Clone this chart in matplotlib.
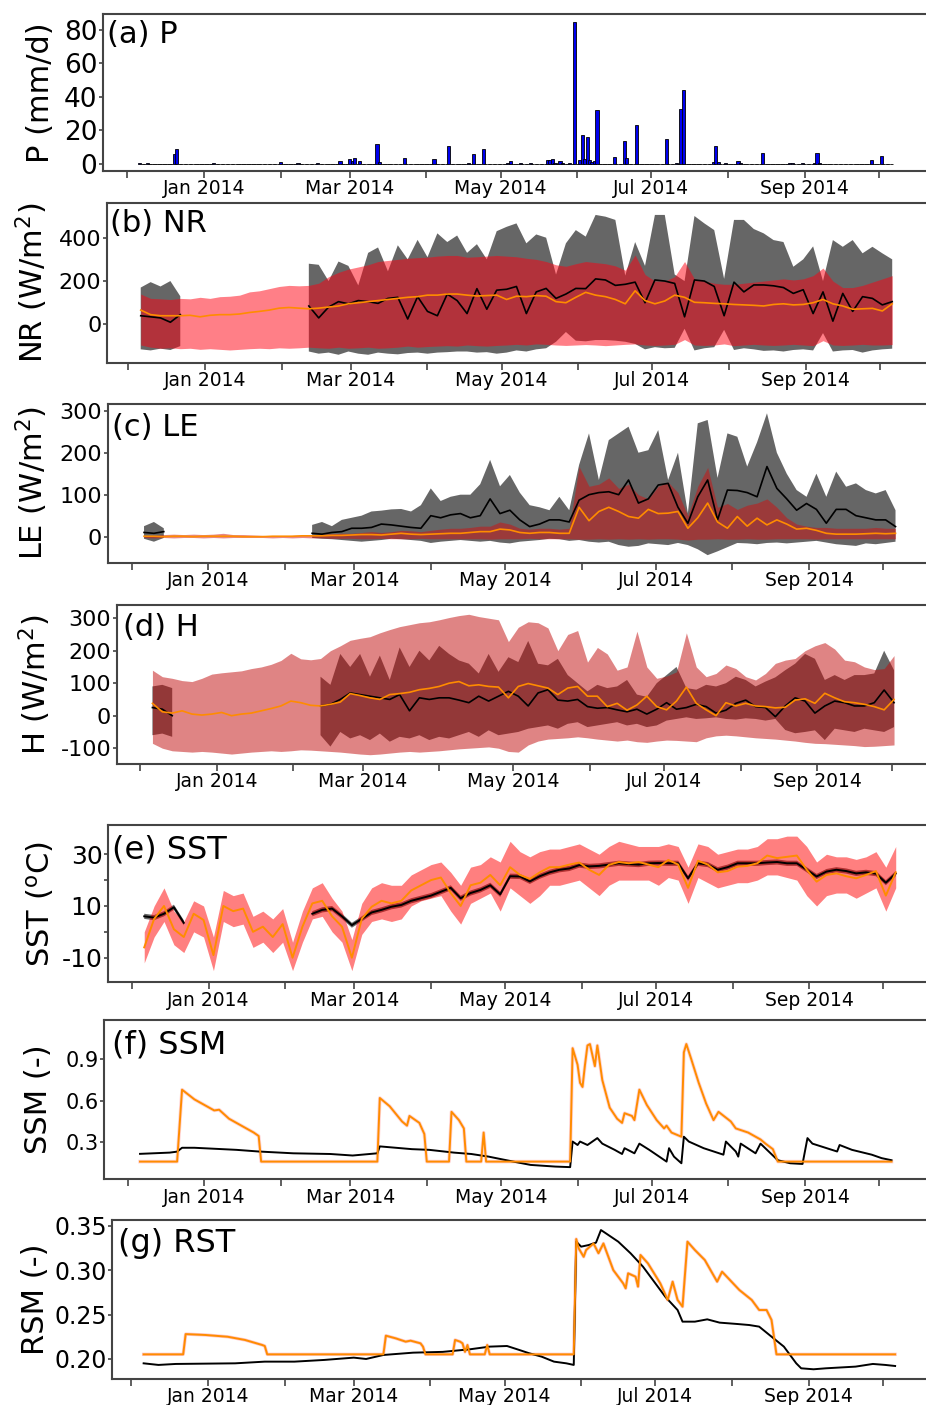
"""
Multi-panel time series: P, NR, LE, H, SST, SSM, RST (Dec 2013 - Oct 2014).
Observations (black / grey band) vs model ensemble (orange / red band).
"""

import numpy as np
import pandas as pd
import matplotlib

matplotlib.use("Agg")
import matplotlib.pyplot as plt
import matplotlib.dates as mdates
from matplotlib.ticker import FuncFormatter

plt.rcParams["font.family"] = "DejaVu Sans"
plt.rcParams["axes.unicode_minus"] = False

nan = np.nan

# ============================================================
# Data
# ============================================================
# sampling grid for panels b-e: every 4 days
grid = pd.date_range("2013-12-06", periods=77, freq="4D")

# ---- (a) precipitation, mm/d (days not listed are 0) ----
rain_dates = [
    "2013-12-06", "2013-12-09", "2013-12-20", "2013-12-21", "2014-01-05", "2014-02-01",
    "2014-02-08", "2014-02-16", "2014-02-25", "2014-03-01", "2014-03-02", "2014-03-03",
    "2014-03-05", "2014-03-12", "2014-03-13", "2014-03-23", "2014-04-04", "2014-04-10",
    "2014-04-18", "2014-04-20", "2014-04-24", "2014-05-04", "2014-05-05", "2014-05-09",
    "2014-05-13", "2014-05-20", "2014-05-21", "2014-05-22", "2014-05-23", "2014-05-25",
    "2014-05-26", "2014-05-29", "2014-05-31", "2014-06-02", "2014-06-03", "2014-06-04",
    "2014-06-05", "2014-06-06", "2014-06-07", "2014-06-08", "2014-06-09", "2014-06-16",
    "2014-06-20", "2014-06-21", "2014-06-25", "2014-07-07", "2014-07-11", "2014-07-13",
    "2014-07-14", "2014-07-26", "2014-07-27", "2014-07-28", "2014-07-31", "2014-08-05",
    "2014-08-06", "2014-08-15", "2014-08-26", "2014-08-27", "2014-08-31", "2014-09-05",
    "2014-09-06", "2014-09-07", "2014-09-28", "2014-10-02",
]
rain_mm = [
    0.5, 0.3, 6, 9, 0.5, 1,
    0.3, 0.8, 2, 3, 1.5, 3.5,
    2, 12, 1, 3.5, 3, 11,
    0.5, 6, 9, 0.8, 1.5, 0.3,
    0.4, 2.5, 2.5, 3, 0.8, 1.8,
    0.5, 0.5, 85, 2.2, 17.5, 3,
    16, 2.5, 1, 2, 32, 4,
    13.5, 3.5, 23, 15, 0.5, 33,
    44, 1, 11, 1, 0.3, 2,
    0.5, 6.5, 0.3, 0.4, 0.3, 0.5,
    6.5, 0.5, 2.5, 4.5,
]

# ---- (b) NR, W/m2 ----
nr_obs_hi = ([170, 195, 175, 200, 130] + [nan] * 12 +
             [280, 275, 200, 290, 270, 180, 330, 355, 245, 365, 300, 390, 310, 420, 380, 410] +
             [330, 370, 300, 430, 450, 466, 374, 415, 400, 230, 374, 435, 405, 505, 497, 482,
              225, 380, 270, 505, 505, 230, 200, 500, 466, 435, 210, 482, 482, 440, 420, 389,
              380, 266, 300, 360, 200, 389, 358, 389, 328, 358, 328, 300])
nr_obs_lo = ([-115, -120, -112, -118, -100] + [nan] * 12 +
             [-125, -135, -130, -140, -125, -135, -140, -130, -135, -138, -132, -130, -135, -130, -128, -125] +
             [-125, -130, -128, -135, -130, -120, -125, -115, -110, -80, -35, -75, -78, -72, -72, -75,
              -80, -90, -115, -105, -110, -108, -20, -120, -110, -105, -25, -118, -110, -115, -122, -120,
              -125, -118, -115, -120, -40, -125, -120, -118, -130, -120, -115, -112])
nr_obs = ([40, 35, 30, 10, 45] + [nan] * 12 +
          [85, 30, 80, 105, 95, 110, 105, 97, 120, 125, 25, 128, 60, 40, 140, 110] +
          [50, 165, 70, 158, 162, 175, 50, 150, 166, 120, 140, 166, 165, 210, 205, 180,
           185, 195, 100, 205, 200, 189, 35, 205, 200, 175, 40, 195, 150, 182, 182, 178,
           170, 143, 160, 50, 150, 15, 143, 60, 128, 120, 90, 105])
nr_mod_hi = [140, 120, 118, 115, 120, 118, 125, 120, 128, 130, 135, 150, 155, 165, 175, 180,
             178, 180, 190, 220, 240, 255, 265, 275, 290, 295, 300, 305, 308, 310, 315, 318,
             318, 310, 312, 315, 318, 315, 312, 305, 300, 290, 275, 268, 280, 290, 285, 280,
             270, 250, 320, 230, 200, 200, 220, 290, 210, 200, 190, 185, 185, 190, 195, 200,
             205, 210, 205, 210, 225, 260, 200, 170, 170, 180, 195, 210, 225]
nr_mod_lo = [-95, -105, -110, -108, -112, -110, -115, -112, -115, -118, -115, -112, -110, -112,
             -108, -110, -108, -105, -108, -110, -105, -110, -108, -105, -110, -108, -105, -100,
             -105, -102, -100, -98, -100, -95, -98, -100, -97, -95, -92, -95, -90, -92, -95, -97,
             -95, -93, -95, -98, -95, -92, -90, -95, -97, -95, -92, -70, -95, -97, -95, -90, -98,
             -95, -92, -95, -97, -95, -92, -95, -98, -75, -95, -97, -95, -92, -95, -95, -93]
nr_mod = [66, 45, 40, 40, 40, 42, 35, 42, 45, 45, 48, 55, 60, 66, 75, 78, 75, 72, 75, 80, 85,
          95, 100, 105, 110, 115, 120, 125, 128, 135, 135, 140, 140, 135, 131, 133, 135, 115,
          130, 128, 133, 130, 105, 100, 125, 148, 135, 128, 115, 95, 155, 110, 95, 108, 135,
          125, 102, 100, 97, 95, 92, 90, 88, 85, 92, 95, 90, 92, 100, 115, 95, 85, 70, 72, 74,
          62, 95]

# ---- (c) LE, W/m2 ----
le_obs_hi = ([25, 35, 20] + [nan] * 14 +
             [28, 35, 25, 40, 45, 50, 60, 62, 65, 66, 60, 75, 115, 85, 95, 100] +
             [100, 125, 183, 120, 147, 105, 75, 70, 63, 95, 63, 171, 246, 135, 230, 246,
              262, 200, 206, 254, 135, 200, 56, 270, 278, 140, 246, 238, 167, 225, 294, 200,
              150, 111, 95, 150, 95, 155, 119, 127, 111, 103, 111, 63])
le_obs_lo = ([-5, -12, -3] + [nan] * 14 +
             [-3, -5, -6, -8, -10, -12, -10, -8, -5, -6, -8, -10, -15, -12, -10, -8] +
             [-10, -12, -10, -14, -16, -12, -10, -8, -5, -6, -10, -8, -12, -14, -12, -20,
              -24, -22, -16, -18, -20, -15, -20, -30, -44, -35, -25, -15, -16, -18, -15, -14,
              -16, -14, -12, -10, -14, -18, -20, -22, -16, -18, -15, -12])
le_obs = ([10, 8, 12] + [nan] * 14 +
          [8, 6, 10, 12, 20, 20, 22, 30, 28, 25, 22, 20, 50, 45, 52, 55] +
          [45, 50, 90, 55, 63, 40, 24, 30, 40, 40, 35, 87, 100, 105, 107, 100,
           135, 80, 90, 123, 127, 70, 32, 95, 135, 40, 111, 110, 105, 95, 167, 115,
           90, 63, 79, 65, 32, 65, 65, 50, 45, 40, 40, 24])
le_mod_hi = [2, 3, 5, 6, 5, 6, 5, 6, 8, 5, 5, 4, 3, 2, 2, 3, 4,
             5, 6, 7, 8, 8, 10, 12, 10, 12, 15, 14, 12, 15, 18, 20, 20,
             22, 25, 25, 35, 30, 20, 18, 20, 20, 18, 20, 167, 120, 125, 140, 115,
             125, 100, 90, 120, 130, 105, 50, 120, 165, 70, 79, 65, 75, 80, 90, 70,
             45, 30, 25, 22, 22, 20, 20, 20, 20, 22, 20, 20]
le_mod_lo = [-2, -3, -2, -3, -2, -2, -3, -2, -3, -2, -2, -2, -2, -3, -2, -3, -2, -3, -3, -4,
             -4, -4, -5, -5, -4, -5, -5, -5, -4, -5, -5, -5, -5, -5, -5, -6, -5, -5, -5, -4,
             -5, -5, -5, -5, -6, -6, -5, -6, -5, -6, -5, -6, -5, -5, -6, -8, -6, -6, -5, -6,
             -6, -5, -6, -6, -5, -5, -5, -5, -6, -5, -5, -5, -5, -5, -5, -5, -5]
le_mod = [1, 1, 0, 1, 1, 0, 1, 1, 1, 1, 0, 0, 0, 1, 1, 1, 2,
          2, 2, 3, 3, 4, 5, 5, 4, 6, 8, 6, 5, 6, 7, 8, 8,
          10, 12, 12, 18, 16, 10, 8, 10, 10, 8, 8, 70, 38, 60, 70, 60,
          48, 44, 65, 55, 56, 60, 20, 45, 80, 35, 20, 48, 25, 44, 28, 40,
          30, 18, 20, 15, 8, 6, 6, 6, 7, 8, 7, 8]

# ---- (d) H, W/m2 ----
h_obs_hi = ([90, 95, 85] + [nan] * 14 +
            [120, 95, 190, 150, 190, 120, 185, 110, 210, 150, 200, 170, 215, 190, 170] +
            [160, 130, 190, 135, 180, 165, 230, 160, 155, 175, 125, 100, 75, 95, 85, 90,
             110, 65, 58, 100, 125, 150, 85, 80, 95, 90, 100, 120, 110, 90, 105, 118,
             140, 160, 190, 175, 110, 125, 110, 125, 125, 130, 200, 140] + [nan])
h_obs_lo = ([-60, -55, -65] + [nan] * 14 +
            [-60, -95, -50, -70, -60, -75, -55, -80, -65, -70, -60, -75, -65, -70, -60] +
            [-50, -65, -45, -60, -55, -50, -40, -35, -30, -40, -25, -20, -35, -30, -25, -20,
             -30, -25, -35, -30, -15, -10, -5, -10, -8, -5, -10, -12, -8, -10, -15, -10,
             -44, -54, -50, -45, -75, -40, -45, -50, -40, -45, -50, -35] + [nan])
h_obs = ([25, 20, 0] + [nan] * 14 +
         [30, 35, 50, 70, 65, 60, 55, 50, 65, 15, 55, 50, 55, 55, 48] +
         [40, 60, 45, 60, 75, 60, 30, 70, 80, 48, 45, 50, 28, 23, 25, 18,
          12, 20, 5, 20, 40, 20, 25, 35, 28, 8, 17, 38, 48, 28, 25, -3,
          30, 55, 45, 8, 30, 45, 40, 30, 30, 40, 79, 40] + [nan])
h_mod_hi = [140, 120, 115, 108, 105, 115, 128, 132, 135, 138, 145, 150, 158, 170, 192, 175,
            172, 176, 200, 215, 232, 238, 243, 255, 265, 274, 280, 286, 289, 295, 302, 308,
            312, 305, 300, 295, 228, 272, 289, 286, 270, 200, 250, 262, 165, 210, 190, 140,
            150, 260, 150, 115, 122, 135, 255, 150, 120, 130, 156, 145, 120, 110, 130, 161,
            171, 176, 200, 215, 225, 205, 171, 166, 150, 142, 145, 185, nan]
h_mod_lo = [-85, -100, -108, -110, -112, -110, -112, -115, -118, -115, -112, -110, -108, -110,
            -108, -105, -106, -108, -110, -112, -115, -118, -120, -118, -115, -112, -110, -112,
            -110, -108, -105, -102, -100, -98, -96, -100, -110, -112, -90, -78, -72, -70, -68,
            -65, -68, -72, -75, -78, -75, -80, -82, -78, -75, -76, -78, -80, -68, -62, -60, -62,
            -65, -68, -70, -72, -75, -78, -82, -85, -86, -88, -90, -92, -95, -94, -92, -90, nan]
h_mod = [38, 12, 8, 15, 5, 2, 5, 10, 0, 5, 8, 15, 22, 30, 45, 40, 32, 30, 35, 42, 68, 62, 55,
         50, 65, 68, 72, 80, 84, 90, 100, 105, 92, 95, 90, 88, 55, 90, 99, 92, 85, 65, 85, 90,
         60, 60, 28, 38, 17, 33, 60, 28, 18, 45, 88, 38, 18, 0, 40, 30, 38, 30, 28, 24, 26, 48,
         52, 38, 69, 55, 43, 40, 35, 28, 18, 50, nan]

# ---- (e) SST, degC ----
sst_obs_hi = ([7, 6.5, 8, 10.5, 4.5] + [nan] * 12 +
              [8, 9.5, 10, 7, 3.5, 6, 8.5, 9.5, 10.7, 11.4, 13, 14, 15, 16.5, 18, 14,
               16, 17.2, 19, 15.5, 22.5, 22.4, 20.5, 22.5, 24, 25, 25.5, 26.8, 26.3, 26.5, 27, 27.5,
               27.2, 27, 27.5, 27.6, 27.5, 27.5, 21.7, 27.5, 27, 25, 26, 27.5, 27.5, 27.5, 27.8, 28,
               27.5, 27.5, 25, 22.4, 24.3, 25, 24.5, 23.6, 24, 23.5, 20, 23.5])
sst_obs_lo = ([5, 4.5, 6, 8.5, 2.5] + [nan] * 12 +
              [6, 7.5, 8, 5, 1.6, 4, 6.5, 7.5, 8.7, 9.4, 11, 12, 13, 14.5, 16, 12,
               14, 15.2, 17, 13.5, 20.5, 20.4, 18.5, 20.5, 22, 23, 23.5, 24.8, 24.3, 24.5, 25, 25.5,
               25.2, 25, 25.5, 25.6, 25.5, 25.5, 19.7, 25.5, 25, 23, 24, 25.5, 25.5, 25.5, 25.8, 26,
               25.5, 25.5, 23, 20.4, 22.3, 23, 22.5, 21.6, 22, 21.5, 18, 21.5])
sst_obs = ([6, 5.5, 7, 9.5, 3.5] + [nan] * 12 +
           [7, 8.5, 9, 6, 2.6, 5, 7.5, 8.5, 9.7, 10.4, 12, 13, 14, 15.5, 17, 13,
            15, 16.2, 18, 14.5, 21.5, 21.4, 19.5, 21.5, 23, 24, 24.5, 25.8, 25.3, 25.5, 26, 26.5,
            26.2, 26, 26.5, 26.6, 26.5, 26.5, 20.7, 26.5, 26, 24, 25, 26.5, 26.5, 26.5, 26.8, 27,
            26.5, 26.5, 24, 21.4, 23.3, 24, 23.5, 22.6, 23, 22.5, 19, 22.5])
sst_mod_hi = [0, 10, 17, 8, 4, 12, 10, -2, 16, 14, 15, 6, 8, 5, 9, -4, 8, 17, 19, 13, 8, -3,
              11, 17, 19, 18, 18, 22, 24, 26, 27, 23, 18, 25, 26, 29, 27, 35, 31, 29, 31, 32,
              32, 33, 34, 32, 30, 33, 35, 34, 33, 33, 33, 34, 33, 25, 34, 33, 30, 31, 32, 32,
              33, 36, 36, 37, 37, 33, 27, 30, 29, 29, 28, 29, 31, 25, 33]
sst_mod_lo = [-12, -2, 4, -5, -8, 0, -2, -15, 4, 2, 3, -6, -4, -8, -4, -15, -4, 5, 6, 0, -4,
              -15, -1, 4, 5, 4, 5, 10, 12, 13, 14, 8, 3, 11, 13, 15, 8, 17, 14, 11, 14, 18,
              18, 19, 20, 17, 14, 18, 20, 20, 20, 20, 18, 21, 20, 11, 21, 19, 17, 18, 19, 19,
              20, 22, 22, 21, 20, 14, 10, 14, 15, 15, 13, 15, 17, 8, 17]
sst_mod = [-6, 5, 10, 1, -2, 7, 4.6, -9, 10, 8, 9, 0, 2, -2, 3, -10, 2, 11, 12, 6, 2, -10, 5,
           9.7, 12, 11, 12, 16, 18, 20, 21, 15, 10, 18, 19, 22, 18, 25, 22, 20.5, 23, 25, 25,
           26, 26.8, 24, 22, 25.9, 27, 26.5, 27, 26, 25, 27.8, 26, 17, 27.5, 26, 23, 23.5, 25.2,
           25.5, 26.5, 29.5, 28.5, 29, 29.5, 24, 19.4, 22, 22.6, 21.5, 20.7, 22, 23.5, 14, 23]

# ---- (f) SSM (-), values at break points ----
ssm_mod_dates = [
    "2013-12-06", "2013-12-21", "2013-12-23", "2013-12-28", "2014-01-02", "2014-01-05",
    "2014-01-07", "2014-01-11", "2014-01-16", "2014-01-21", "2014-01-23", "2014-01-24",
    "2014-03-12", "2014-03-13", "2014-03-17", "2014-03-22", "2014-03-24", "2014-03-25",
    "2014-03-29", "2014-03-31", "2014-04-01", "2014-04-10", "2014-04-11", "2014-04-14",
    "2014-04-16", "2014-04-17", "2014-04-23", "2014-04-24", "2014-04-25", "2014-05-29",
    "2014-05-30", "2014-06-01", "2014-06-02", "2014-06-03", "2014-06-04", "2014-06-05",
    "2014-06-06", "2014-06-08", "2014-06-09", "2014-06-11", "2014-06-14", "2014-06-17",
    "2014-06-19", "2014-06-20", "2014-06-23", "2014-06-24", "2014-06-26", "2014-06-29",
    "2014-07-03", "2014-07-06", "2014-07-07", "2014-07-09", "2014-07-13", "2014-07-14",
    "2014-07-15", "2014-07-17", "2014-07-20", "2014-07-23", "2014-07-26", "2014-07-28",
    "2014-08-02", "2014-08-04", "2014-08-09", "2014-08-14", "2014-08-16", "2014-08-19",
    "2014-08-21", "2014-10-06",
]
ssm_mod = [
    0.16, 0.16, 0.68, 0.61, 0.56, 0.53,
    0.535, 0.47, 0.42, 0.37, 0.345, 0.16,
    0.16, 0.62, 0.56, 0.45, 0.42, 0.49,
    0.44, 0.36, 0.16, 0.16, 0.52, 0.46,
    0.40, 0.16, 0.16, 0.37, 0.16, 0.16,
    0.98, 0.86, 0.73, 0.70, 0.86, 1.00,
    1.01, 0.85, 1.00, 0.75, 0.55, 0.47,
    0.44, 0.51, 0.49, 0.46, 0.68, 0.57,
    0.46, 0.40, 0.42, 0.37, 0.34, 0.95,
    1.01, 0.90, 0.73, 0.58, 0.46, 0.52,
    0.45, 0.40, 0.37, 0.32, 0.29, 0.25,
    0.16, 0.16,
]
ssm_obs_dates = [
    "2013-12-06", "2013-12-18", "2013-12-21", "2013-12-23", "2013-12-28", "2014-01-14",
    "2014-01-23", "2014-02-06", "2014-02-21", "2014-03-02", "2014-03-12", "2014-03-13",
    "2014-03-26", "2014-04-02", "2014-04-12", "2014-04-19", "2014-04-26", "2014-05-06",
    "2014-05-13", "2014-05-23", "2014-05-29", "2014-05-30", "2014-06-01", "2014-06-02",
    "2014-06-05", "2014-06-07", "2014-06-09", "2014-06-11", "2014-06-16", "2014-06-19",
    "2014-06-20", "2014-06-24", "2014-06-26", "2014-06-30", "2014-07-07", "2014-07-08",
    "2014-07-10", "2014-07-13", "2014-07-14", "2014-07-16", "2014-07-22", "2014-07-30",
    "2014-07-31", "2014-08-04", "2014-08-05", "2014-08-06", "2014-08-12", "2014-08-14",
    "2014-08-21", "2014-08-26", "2014-08-31", "2014-09-02", "2014-09-04", "2014-09-14",
    "2014-09-15", "2014-09-20", "2014-09-28", "2014-10-02", "2014-10-06",
]
ssm_obs = [
    0.216, 0.225, 0.232, 0.26, 0.26, 0.245,
    0.233, 0.22, 0.215, 0.204, 0.22, 0.27,
    0.25, 0.245, 0.225, 0.215, 0.196, 0.16,
    0.136, 0.124, 0.12, 0.305, 0.28, 0.305,
    0.28, 0.305, 0.33, 0.29, 0.245, 0.215,
    0.257, 0.22, 0.29, 0.245, 0.16, 0.257,
    0.196, 0.148, 0.34, 0.305, 0.257, 0.21,
    0.305, 0.233, 0.196, 0.29, 0.22, 0.29,
    0.17, 0.148, 0.143, 0.33, 0.29, 0.233,
    0.28, 0.245, 0.21, 0.185, 0.17,
]

# ---- (g) RSM (-), values at break points ----
rsm_mod_dates = [
    "2013-12-06", "2013-12-22", "2013-12-23", "2013-12-31", "2014-01-09", "2014-01-16",
    "2014-01-23", "2014-01-24", "2014-01-25", "2014-03-13", "2014-03-14", "2014-03-18",
    "2014-03-22", "2014-03-24", "2014-03-28", "2014-03-29", "2014-03-30", "2014-04-10",
    "2014-04-11", "2014-04-13", "2014-04-14", "2014-04-15", "2014-04-16", "2014-04-17",
    "2014-04-23", "2014-04-24", "2014-04-25", "2014-05-29", "2014-05-30", "2014-05-31",
    "2014-06-02", "2014-06-03", "2014-06-06", "2014-06-08", "2014-06-10", "2014-06-14",
    "2014-06-18", "2014-06-19", "2014-06-20", "2014-06-23", "2014-06-24", "2014-06-25",
    "2014-06-28", "2014-07-03", "2014-07-06", "2014-07-08", "2014-07-10", "2014-07-12",
    "2014-07-14", "2014-07-17", "2014-07-21", "2014-07-26", "2014-07-28", "2014-08-04",
    "2014-08-09", "2014-08-12", "2014-08-15", "2014-08-17", "2014-08-19", "2014-10-06",
]
rsm_mod = [
    0.2052, 0.2052, 0.228, 0.227, 0.225, 0.2214,
    0.2157, 0.2146, 0.2052, 0.2052, 0.2262, 0.2232,
    0.2195, 0.2206, 0.2176, 0.2139, 0.2052, 0.2052,
    0.2214, 0.2195, 0.2176, 0.208, 0.2157, 0.2052,
    0.2052, 0.2157, 0.2052, 0.2052, 0.335, 0.3245,
    0.315, 0.3226, 0.330, 0.319, 0.330, 0.300,
    0.285, 0.2795, 0.2964, 0.2926, 0.2814, 0.317,
    0.3076, 0.2851, 0.2664, 0.287, 0.2664, 0.2589,
    0.332, 0.3226, 0.3114, 0.287, 0.2982, 0.2776,
    0.2664, 0.2551, 0.2551, 0.2439, 0.2052, 0.2052,
]
rsm_obs_dates = [
    "2013-12-06", "2013-12-12", "2013-12-19", "2014-01-12", "2014-01-24", "2014-02-05",
    "2014-02-17", "2014-03-01", "2014-03-06", "2014-03-13", "2014-03-25", "2014-04-06",
    "2014-04-17", "2014-04-25", "2014-05-02", "2014-05-07", "2014-05-11", "2014-05-16",
    "2014-05-21", "2014-05-26", "2014-05-29", "2014-05-30", "2014-06-01", "2014-06-04",
    "2014-06-07", "2014-06-09", "2014-06-11", "2014-06-16", "2014-06-21", "2014-06-26",
    "2014-06-30", "2014-07-05", "2014-07-10", "2014-07-12", "2014-07-17", "2014-07-22",
    "2014-07-27", "2014-08-03", "2014-08-08", "2014-08-12", "2014-08-17", "2014-08-22",
    "2014-08-27", "2014-08-29", "2014-09-03", "2014-09-08", "2014-09-20", "2014-09-27",
    "2014-10-02", "2014-10-06",
]
rsm_obs = [
    0.1951, 0.1933, 0.1944, 0.1951, 0.197, 0.197,
    0.1989, 0.2015, 0.200, 0.2045, 0.2071, 0.208,
    0.2109, 0.2139, 0.2146, 0.2101, 0.2064, 0.2026,
    0.197, 0.1951, 0.1933, 0.332, 0.3264, 0.3282,
    0.3309, 0.3451, 0.3414, 0.332, 0.3189, 0.3039,
    0.2889, 0.2701, 0.2551, 0.242, 0.242, 0.2446,
    0.2409, 0.2394, 0.2382, 0.2364, 0.2251, 0.2139,
    0.1951, 0.1895, 0.1884, 0.1895, 0.1914, 0.1944,
    0.1933, 0.1921,
]

# ============================================================
# Figure layout (pixel geometry of each panel in the 926x1405 image)
# ============================================================
W, H = 926, 1405
PPD = 2.472  # pixels per day on the time axis
GREY = "#666666"
ORANGE = "#ff8c00"
SPINE = "#444444"

fig = plt.figure(figsize=(W / 100, H / 100), dpi=100)


def month_label(x, pos):
    d = mdates.num2date(x)
    return d.strftime("%b %Y") if d.month % 2 == 1 else ""


def make_panel(left, top, bottom, jan_px, ylim, yticks, ylabel, ylab_right,
               tag, tag_off, tag_fs, ytick_fs, yfmt=None):
    ax = fig.add_axes([left / W, 1 - bottom / H, (W - left) / W, (bottom - top) / H])
    t0 = pd.Timestamp("2014-01-01")
    ax.set_xlim(t0 - pd.Timedelta(days=(jan_px - left) / PPD),
                t0 + pd.Timedelta(days=(W - jan_px) / PPD))
    ax.xaxis.set_major_locator(mdates.MonthLocator())
    ax.xaxis.set_major_formatter(FuncFormatter(month_label))
    ax.set_ylim(*ylim)
    ax.set_yticks(yticks)
    if yfmt is not None:
        ax.yaxis.set_major_formatter(FuncFormatter(yfmt))
    ax.tick_params(axis="x", direction="out", length=5, width=1.2, color=SPINE,
                   labelsize=13.5, pad=1)
    ax.tick_params(axis="y", direction="out", length=3, width=1.2, color=SPINE,
                   labelsize=ytick_fs, pad=1)
    for side in ["top", "bottom", "left"]:
        ax.spines[side].set_color(SPINE)
        ax.spines[side].set_linewidth(1.5)
    ax.spines["right"].set_visible(False)
    ax.set_ylabel(ylabel, fontsize=22)
    ax.yaxis.set_label_coords((ylab_right - left) / (W - left), 0.5)
    ax.annotate(tag, xy=(0, 1), xycoords="axes fraction", xytext=tag_off,
                textcoords="offset pixels", ha="left", va="top", fontsize=tag_fs)
    return ax


def band_panel(ax, obs_lo, obs_hi, mod_lo, mod_hi, obs, mod, red, alpha=0.5, lw=1.2):
    ax.fill_between(grid, obs_lo, obs_hi, color=GREY, lw=0)
    ax.fill_between(grid, mod_lo, mod_hi, color=red, alpha=alpha, lw=0)
    ax.plot(grid, obs, color="black", lw=lw)
    ax.plot(grid, mod, color=ORANGE, lw=lw)


# ---- (a) P ----
ax_a = make_panel(103, 14, 171, 204, (-4.2, 89.5), [0, 20, 40, 60, 80], "P (mm/d)", 55,
                  "(a) P", (4, -6), 22, 19)
p_days = pd.date_range("2013-12-06", "2014-10-06", freq="D")
p_series = pd.Series(0.0, index=p_days)
p_series[pd.to_datetime(rain_dates)] = rain_mm
ax_a.bar(p_series.index, p_series.values, width=1.3, color="#0000ee",
         edgecolor="black", linewidth=0.6)

# ---- (b) NR ----
ax_b = make_panel(107, 203, 363, 205, (-178, 560), [0, 200, 400], "NR (W/m$^2$)", 50,
                  "(b) NR", (3, -6), 22, 16)
band_panel(ax_b, nr_obs_lo, nr_obs_hi, nr_mod_lo, nr_mod_hi, nr_obs, nr_mod, "#ff0011")

# ---- (c) LE ----
ax_c = make_panel(107.7, 404, 562.7, 208.3, (-62, 316), [0, 100, 200, 300], "LE (W/m$^2$)", 50,
                  "(c) LE", (4, -9), 22, 16)
band_panel(ax_c, le_obs_lo, le_obs_hi, le_mod_lo, le_mod_hi, le_obs, le_mod, "#d01010")

# ---- (d) H ----
ax_d = make_panel(116.7, 604.7, 764, 216.7, (-148.6, 341.5), [-100, 0, 100, 200, 300],
                  "H (W/m$^2$)", 53, "(d) H", (6, -8), 22, 16)
band_panel(ax_d, h_obs_lo, h_obs_hi, h_mod_lo, h_mod_hi, h_obs, h_mod, "#c10b0b")

# ---- (e) SST ----
ax_e = make_panel(108, 825, 982.3, 208.5, (-19.5, 41.3), [-10, 0, 10, 20, 30],
                  "SST ($^{\\mathrm{o}}$C)", 56, "(e) SST", (4, -9), 23, 18,
                  yfmt=lambda v, p: "%d" % v if int(round(v)) % 20 != 0 else "")
band_panel(ax_e, sst_obs_lo, sst_obs_hi, sst_mod_lo, sst_mod_hi, sst_obs, sst_mod,
           "#ff0000", lw=1.4)

# ---- (f) SSM ----
ax_f = make_panel(104, 1020, 1179.3, 204.3, (0.032, 1.184), [0.3, 0.6, 0.9], "SSM (-)", 53,
                  "(f) SSM", (8, -9), 23, 15, yfmt=lambda v, p: "%.1f" % v)
ssm_md = pd.to_datetime(ssm_mod_dates)
ax_f.plot(ssm_md, ssm_mod, color="#ffaaaa", lw=2.6, alpha=0.5)
ax_f.plot(pd.to_datetime(ssm_obs_dates), ssm_obs, color="black", lw=1.4)
ax_f.plot(ssm_md, ssm_mod, color=ORANGE, lw=1.4)

# ---- (g) RST ----
ax_g = make_panel(112.2, 1220, 1378.7, 207.9, (0.1778, 0.3564), [0.20, 0.25, 0.30, 0.35],
                  "RSM (-)", 50, "(g) RST", (6, -8), 23, 17, yfmt=lambda v, p: "%.2f" % v)
rsm_md = pd.to_datetime(rsm_mod_dates)
ax_g.plot(rsm_md, rsm_mod, color="#ff7777", lw=2.4, alpha=0.4)
ax_g.plot(pd.to_datetime(rsm_obs_dates), rsm_obs, color="black", lw=1.4)
ax_g.plot(rsm_md, rsm_mod, color=ORANGE, lw=1.4)

fig.savefig("out.png", dpi=100)
